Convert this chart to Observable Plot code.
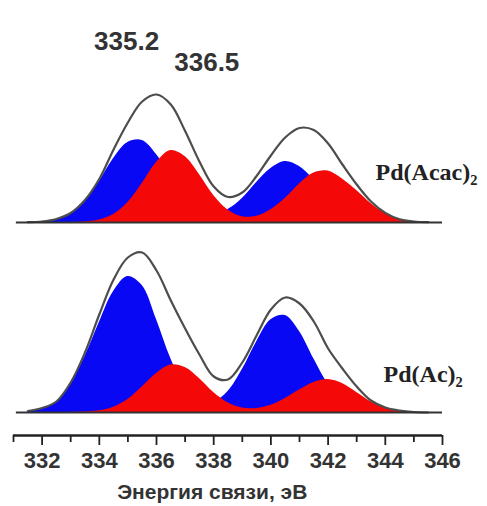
<!DOCTYPE html>
<html>
<head>
<meta charset="utf-8">
<script src="https://cdn.jsdelivr.net/npm/d3@7"></script>
<script src="https://cdn.jsdelivr.net/npm/@observablehq/plot@0.6"></script>
<style>
  html, body { margin: 0; padding: 0; background: #fff; }
  #chart { width: 487px; height: 506px; }
</style>
</head>
<body>
<div id="chart"></div>
<script>
// Binding energy grid (eV)
const energy = [331.5, 332, 332.5, 333, 333.5, 334, 334.5, 335, 335.5, 336, 336.5, 337, 337.5, 338, 338.5,
                339, 339.5, 340, 340.5, 341, 341.5, 342, 342.5, 343, 343.5, 344, 344.5, 345, 345.5];

const panels = ["Pd(Acac)₂", "Pd(Ac)₂"];

// Pd(Acac)2 — intensity (a.u.)
const acacBlue     = [0.2, 1, 3, 9, 22, 41, 64, 80, 82, 68, 46, 25.5, 12.7, 9, 13, 24, 40, 54, 61, 56, 43, 27, 14, 6, 2, 0.6, 0.1, 0, 0];
const acacRed      = [0, 0, 0, 0.1, 0.6, 2.5, 8, 20, 39, 60, 72, 66, 48, 27, 12.5, 5.8, 6.2, 12.7, 24, 38.5, 49.5, 51.5, 43.5, 32, 19, 9, 3, 0.8, 0.2];
const acacEnvelope = [0.3, 1, 3.5, 9.5, 22.5, 43.5, 73, 100, 121, 128, 118, 91.5, 61, 36, 25.5, 30, 46.5, 67, 85, 94.5, 92.5, 79, 58, 38, 21, 9.6, 3.2, 1, 0.3];

// Pd(Ac)2 — intensity (a.u.)
const acBlue     = [1, 3.5, 10, 29, 56, 90, 121, 136, 127, 93, 54, 25, 11, 10.5, 21, 43, 70.6, 92.7, 97, 81, 53.7, 28.4, 12, 4, 1.1, 0.2, 0, 0, 0];
const acRed      = [0, 0, 0, 0, 0.4, 1.7, 5.3, 13, 25.6, 39, 47.5, 45, 34, 20, 9.7, 4.5, 4, 7.2, 14, 22.5, 30, 33, 29, 20, 10.7, 4.5, 1.5, 0.4, 0];
const acEnvelope = [1.5, 4.5, 11, 30, 60, 98, 133, 155, 160, 142, 112, 84, 58, 36, 33, 50, 77, 103, 115, 109, 91, 64, 44, 26, 12, 5, 2, 0.5, 0];

const peakLabels = ["335.2", "336.5"];
const majorTicks = [332, 334, 336, 338, 340, 342, 344, 346];
const minorTicks = [331, 333, 335, 337, 339, 341, 343, 345];
const axisTitle = "Энергия связи, эВ";

// Build table
const series = [
  {blue: acacBlue, red: acacRed, env: acacEnvelope},
  {blue: acBlue, red: acRed, env: acEnvelope}
];
const rows = panels.flatMap((p, i) => energy.map((E, j) => ({
  panel: p, E, blue: series[i].blue[j], red: series[i].red[j], env: series[i].env[j]
})));

const yMin = -23, yMax = 162;
const sans = "'Liberation Sans', Arial, sans-serif";
const serif = "'Liberation Serif', 'Times New Roman', serif";

const chart = Plot.plot({
  width: 487,
  height: 506,
  marginLeft: 13,
  marginRight: 45,
  marginTop: 60,
  marginBottom: 71,
  style: {background: "#fff", fontFamily: sans},
  x: {domain: [331, 346]},
  y: {domain: [yMin, yMax], axis: null},
  fy: {domain: panels, axis: null, paddingInner: 5 / 190, paddingOuter: 0},
  marks: [
    Plot.areaY(rows, {x: "E", y: "blue", fy: "panel", fill: "#0808f4", curve: "catmull-rom"}),
    Plot.areaY(rows, {x: "E", y: "red", fy: "panel", fill: "#f40808", curve: "catmull-rom"}),
    Plot.line(rows, {x: "E", y: "env", fy: "panel", z: "panel", stroke: "#4d4d4d", strokeWidth: 2.2, curve: "catmull-rom"}),
    Plot.ruleY(panels, {y: () => 0, fy: d => d, x1: 331.1, x2: 346, stroke: "#333", strokeWidth: 2}),
    // peak labels
    Plot.text([peakLabels[0]], {x: d => +d, text: d => d, fy: () => panels[0], frameAnchor: "top", lineAnchor: "middle",
      dx: -7, dy: -19, fontSize: 26, fontWeight: "bold", fill: "#333", fontFamily: sans}),
    Plot.text([peakLabels[1]], {x: d => +d, text: d => d, fy: () => panels[0], frameAnchor: "top", lineAnchor: "middle",
      dx: 36, dy: 2, fontSize: 26, fontWeight: "bold", fill: "#333", fontFamily: sans}),
    // sample names
    Plot.text([panels[0]], {x: 343.66, y: 50, text: d => d, fy: d => d, textAnchor: "start",
      fontSize: 24, fontWeight: "bold", fill: "#222", fontFamily: serif}),
    Plot.text([panels[1]], {x: 343.94, y: 38, text: d => d, fy: d => d, textAnchor: "start",
      fontSize: 24, fontWeight: "bold", fill: "#222", fontFamily: serif}),
    // x axis
    Plot.ruleY([panels[1]], {y: () => yMin, fy: d => d, x1: 331, x2: 346, stroke: "#222", strokeWidth: 2.5}),
    Plot.axisX(minorTicks, {anchor: "bottom", tickSize: 7, tickFormat: () => "", stroke: "#222", strokeWidth: 1.8, label: null}),
    Plot.axisX(majorTicks, {anchor: "bottom", tickSize: 10, tickPadding: 7, tickFormat: d => String(d),
      fontSize: 22, fontWeight: "bold", fill: "#333", stroke: "#222", strokeWidth: 1.8, label: null, fontFamily: sans}),
    Plot.text([axisTitle], {x: 337.95, y: () => yMin, fy: () => panels[1], text: d => d, dy: 57,
      fontSize: 21, fontWeight: "bold", fill: "#333", fontFamily: sans})
  ]
});
document.getElementById("chart").appendChild(chart);
</script>
</body>
</html>
